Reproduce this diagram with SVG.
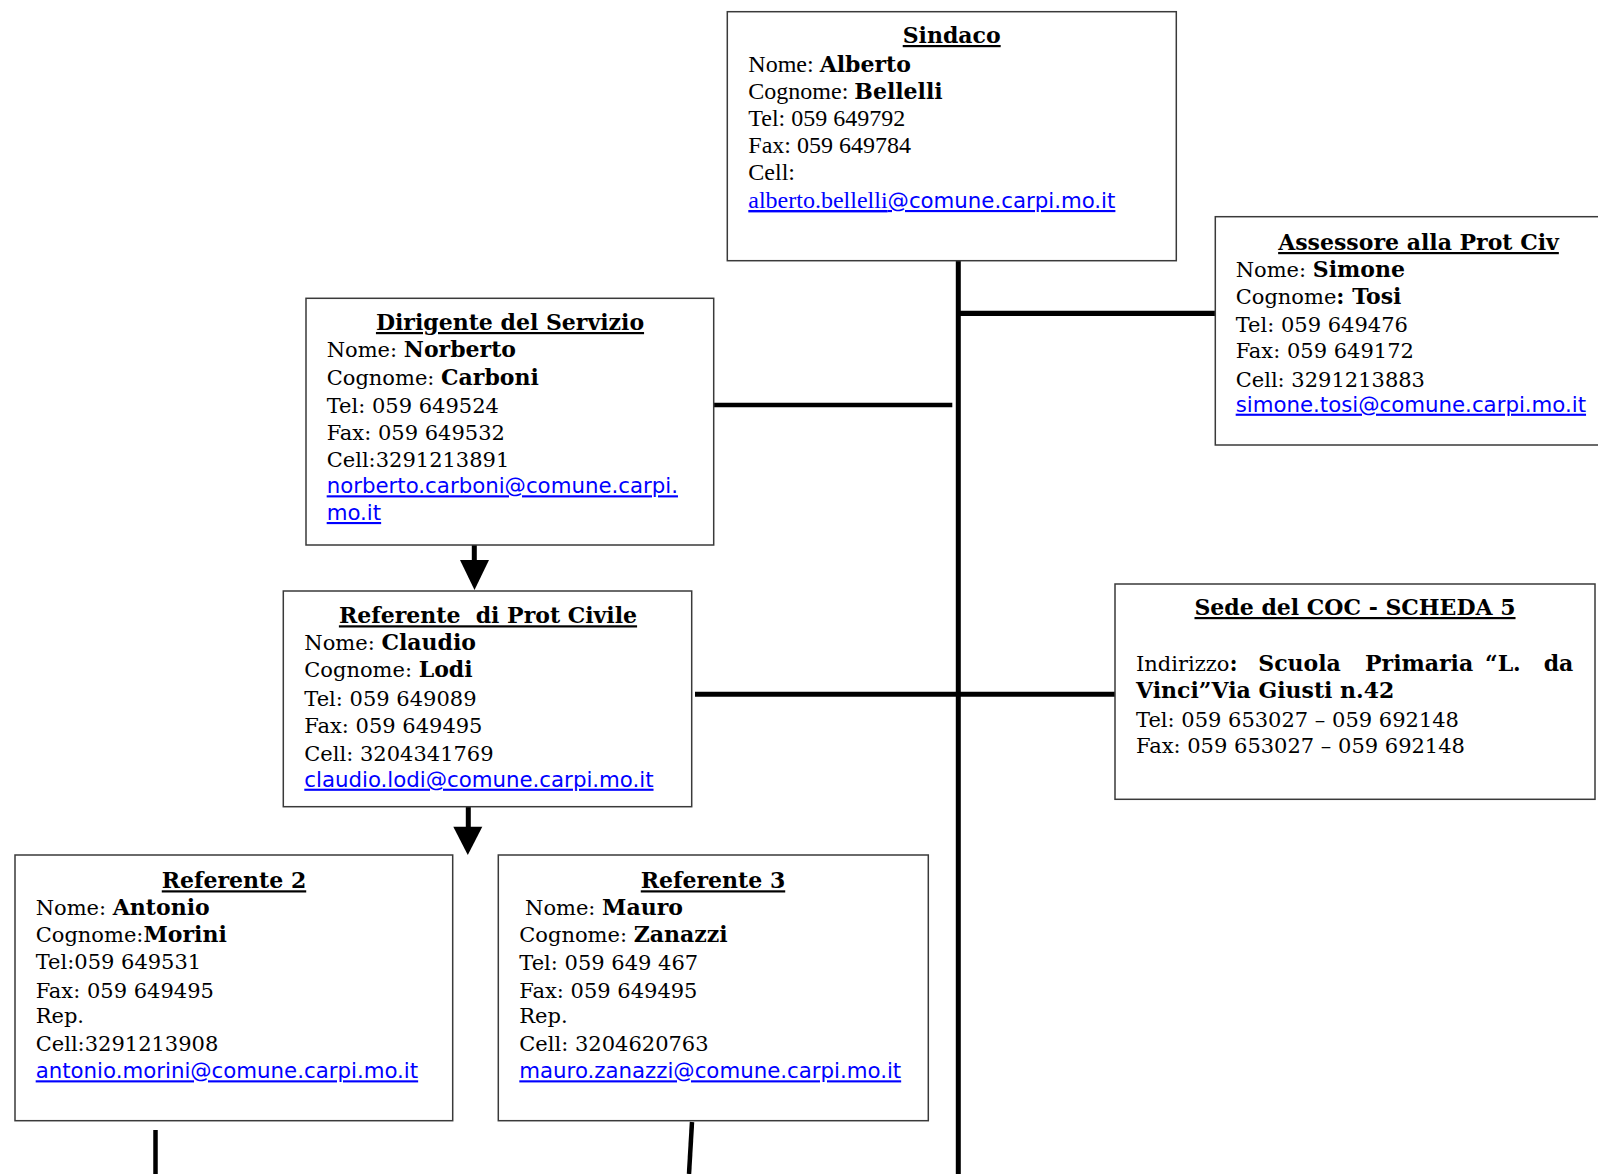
<svg xmlns="http://www.w3.org/2000/svg" width="1598" height="1174" viewBox="0 0 1598 1174">
<style>
.box{fill:#fff;stroke:#3a3a3a;stroke-width:1.5}
.t{font-family:"DejaVu Serif","Liberation Serif",serif;font-size:21px;fill:#000}
.tm{font-family:"Liberation Serif","Times New Roman",serif;font-size:24px;fill:#000}
.h{font-family:"DejaVu Serif","Liberation Serif",serif;font-size:22px;font-weight:bold;text-decoration:underline;text-anchor:middle;fill:#000}
.b{font-family:"DejaVu Serif","Liberation Serif",serif;font-weight:bold;font-size:22px}
.m{font-family:"DejaVu Sans","Liberation Sans",sans-serif;font-size:21.3px;fill:#0000ff;text-decoration:underline}
.c{stroke:#000;fill:none}
</style>
<g id="connectors">
<line class="c" x1="958.3" y1="255" x2="958.3" y2="1174" stroke-width="5"/>
<line class="c" x1="958" y1="313.3" x2="1215" y2="313.3" stroke-width="5.3"/>
<line class="c" x1="714" y1="405" x2="952.3" y2="405" stroke-width="4.7"/>
<line class="c" x1="695" y1="694.3" x2="1115" y2="694.3" stroke-width="5"/>
<line class="c" x1="474.3" y1="545" x2="474.3" y2="561" stroke-width="5"/>
<polygon points="460,560 489,560 474.5,590" fill="#000"/>
<line class="c" x1="468.3" y1="807" x2="468.3" y2="828" stroke-width="5"/>
<polygon points="453.3,826.7 482.3,826.7 467.8,855" fill="#000"/>
<line class="c" x1="155.5" y1="1130" x2="155.5" y2="1174" stroke-width="4.5"/>
<line class="c" x1="692" y1="1122" x2="689" y2="1174" stroke-width="4.5"/>
</g>
<g id="sindaco">
<rect class="box" x="727.3" y="11.7" width="449" height="249"/>
<text class="h" x="951.7" y="43">Sindaco</text>
<text class="tm" x="748.3" y="71.7">Nome: <tspan class="b">Alberto</tspan></text>
<text class="tm" x="748.3" y="99">Cognome: <tspan class="b">Bellelli</tspan></text>
<text class="tm" x="748.3" y="126">Tel: 059 649792</text>
<text class="tm" x="748.3" y="153">Fax: 059 649784</text>
<text class="tm" x="748.3" y="180">Cell:</text>
<text class="m" x="748.3" y="208"><tspan font-family="Liberation Serif, serif" font-size="24">alberto.bellelli</tspan>@comune.carpi.mo.it</text>
</g>
<g id="assessore">
<rect class="box" x="1215.3" y="216.7" width="390" height="228.3"/>
<text class="h" x="1418.5" y="250">Assessore alla Prot Civ</text>
<text class="t" x="1235.7" y="276.7">Nome: <tspan class="b">Simone</tspan></text>
<text class="t" x="1235.7" y="304">Cognome<tspan class="b">: Tosi</tspan></text>
<text class="t" x="1235.7" y="331.7">Tel: 059 649476</text>
<text class="t" x="1235.7" y="358.3">Fax: 059 649172</text>
<text class="t" x="1235.7" y="386.7">Cell: 3291213883</text>
<text class="m" x="1235.7" y="411.7">simone.tosi@comune.carpi.mo.it</text>
</g>
<g id="dirigente">
<rect class="box" x="306" y="298.3" width="407.7" height="246.7"/>
<text class="h" x="510" y="330">Dirigente del Servizio</text>
<text class="t" x="326.7" y="356.7">Nome: <tspan class="b">Norberto</tspan></text>
<text class="t" x="326.7" y="385">Cognome: <tspan class="b">Carboni</tspan></text>
<text class="t" x="326.7" y="413.3">Tel: 059 649524</text>
<text class="t" x="326.7" y="440">Fax: 059 649532</text>
<text class="t" x="326.7" y="466.7">Cell:3291213891</text>
<text class="m" x="326.7" y="493.3">norberto.carboni@comune.carpi.</text>
<text class="m" x="326.7" y="520">mo.it</text>
</g>
<g id="referente-prot-civile">
<rect class="box" x="283.3" y="591" width="408.4" height="215.7"/>
<text class="h" x="488" y="623.3" xml:space="preserve">Referente  di Prot Civile</text>
<text class="t" x="304.3" y="650">Nome: <tspan class="b">Claudio</tspan></text>
<text class="t" x="304.3" y="677.3">Cognome: <tspan class="b">Lodi</tspan></text>
<text class="t" x="304.3" y="705.7">Tel: 059 649089</text>
<text class="t" x="304.3" y="733.3">Fax: 059 649495</text>
<text class="t" x="304.3" y="760.7">Cell: 3204341769</text>
<text class="m" x="304.3" y="786.7">claudio.lodi@comune.carpi.mo.it</text>
</g>
<g id="sede-coc">
<rect class="box" x="1115" y="584" width="480" height="215.3"/>
<text class="h" x="1355" y="615">Sede del COC - SCHEDA 5</text>
<text class="t" x="1136" y="670.7">Indirizzo<tspan class="b">:</tspan></text>
<text class="t b" x="1258.3" y="670.7">Scuola</text>
<text class="t b" x="1365" y="670.7">Primaria</text>
<text class="t b" x="1485" y="670.7">“L.</text>
<text class="t b" x="1573.3" y="670.7" text-anchor="end">da</text>
<text class="t b" x="1136" y="698.3">Vinci”Via Giusti n.42</text>
<text class="t" x="1136" y="726.7">Tel: 059 653027 – 059 692148</text>
<text class="t" x="1136" y="752.7">Fax: 059 653027 – 059 692148</text>
</g>
<g id="referente-2">
<rect class="box" x="15" y="855" width="437.7" height="265.7"/>
<text class="h" x="234" y="888.3">Referente 2</text>
<text class="t" x="35.7" y="915">Nome: <tspan class="b">Antonio</tspan></text>
<text class="t" x="35.7" y="941.7">Cognome:<tspan class="b">Morini</tspan></text>
<text class="t" x="35.7" y="969.3">Tel:059 649531</text>
<text class="t" x="35.7" y="998.3">Fax: 059 649495</text>
<text class="t" x="35.7" y="1023.3">Rep.</text>
<text class="t" x="35.7" y="1050.7">Cell:3291213908</text>
<text class="m" x="35.7" y="1078.3">antonio.morini@comune.carpi.mo.it</text>
</g>
<g id="referente-3">
<rect class="box" x="498.3" y="855" width="430" height="265.7"/>
<text class="h" x="713" y="888.3">Referente 3</text>
<text class="t" x="525" y="915">Nome: <tspan class="b">Mauro</tspan></text>
<text class="t" x="519.3" y="941.7">Cognome: <tspan class="b">Zanazzi</tspan></text>
<text class="t" x="519.3" y="970">Tel: 059 649 467</text>
<text class="t" x="519.3" y="998.3">Fax: 059 649495</text>
<text class="t" x="519.3" y="1023.3">Rep.</text>
<text class="t" x="519.3" y="1050.7">Cell: 3204620763</text>
<text class="m" x="519.3" y="1078.3">mauro.zanazzi@comune.carpi.mo.it</text>
</g>
</svg>
